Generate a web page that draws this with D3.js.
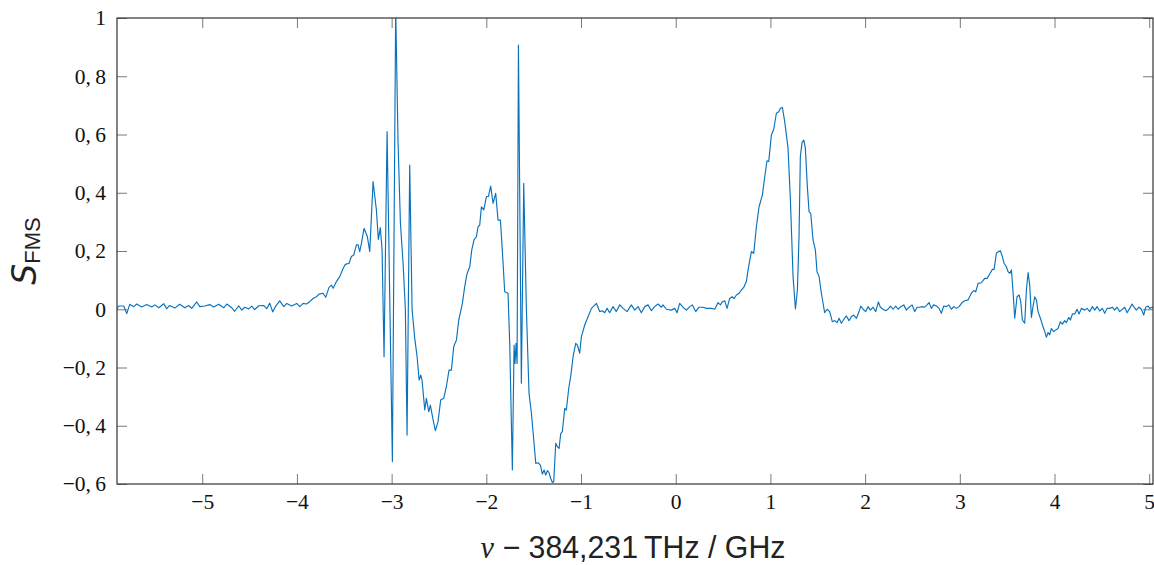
<!DOCTYPE html>
<html>
<head>
<meta charset="utf-8">
<script src="https://cdn.jsdelivr.net/npm/d3@7"></script>
<style>
    html, body { margin: 0; padding: 0; background: #fff; }
    svg { display: block; }
</style>
</head>
<body>
<div id="chart"></div>
<script>
// FM spectroscopy signal, [detuning in GHz, S_FMS]
const flatLeft = [
    [-5.903, 0.000], [-5.882, 0.011], [-5.829, 0.011], [-5.797, -0.015], [-5.766, 0.017],
    [-5.723, 0.009], [-5.692, 0.018], [-5.639, 0.008], [-5.586, 0.016], [-5.533, 0.008],
    [-5.502, 0.015], [-5.459, 0.005], [-5.406, 0.019], [-5.375, 0.002], [-5.343, 0.013],
    [-5.290, 0.004], [-5.238, 0.017], [-5.185, 0.005], [-5.143, 0.013], [-5.111, 0.003],
    [-5.058, 0.025], [-5.026, 0.009], [-4.974, 0.011], [-4.921, 0.016], [-4.879, 0.008],
    [-4.826, 0.017], [-4.773, 0.005], [-4.741, 0.018], [-4.688, 0.005], [-4.657, -0.007],
    [-4.615, 0.012], [-4.583, -0.003], [-4.551, 0.007], [-4.509, 0.001], [-4.477, 0.011],
    [-4.446, -0.001], [-4.403, 0.012], [-4.351, 0.013], [-4.319, 0.002], [-4.287, 0.021],
    [-4.256, -0.009], [-4.224, 0.011], [-4.182, 0.029], [-4.139, 0.009], [-4.108, 0.020],
    [-4.055, 0.011], [-4.002, 0.020]
];

const groupA = [
    [-3.970, 0.009], [-3.935, 0.020], [-3.900, 0.018], [-3.865, 0.026], [-3.830, 0.037],
    [-3.794, 0.043], [-3.766, 0.052], [-3.724, 0.055], [-3.696, 0.041], [-3.661, 0.075],
    [-3.636, 0.083], [-3.618, 0.072], [-3.583, 0.095], [-3.548, 0.112], [-3.513, 0.140],
    [-3.488, 0.154], [-3.449, 0.158], [-3.425, 0.181], [-3.400, 0.186], [-3.372, 0.221],
    [-3.354, 0.221], [-3.337, 0.198], [-3.319, 0.226], [-3.291, 0.278], [-3.256, 0.249],
    [-3.231, 0.198], [-3.196, 0.438], [-3.161, 0.341], [-3.140, 0.240], [-3.119, 0.280],
    [-3.101, 0.204], [-3.080, -0.163], [-3.048, 0.610], [-2.992, -0.523], [-2.957, 1.030],
    [-2.932, 0.570], [-2.907, 0.295], [-2.879, 0.158], [-2.855, 0.000], [-2.837, -0.432],
    [-2.809, 0.495], [-2.784, 0.000], [-2.756, -0.100], [-2.731, -0.163], [-2.710, -0.243],
    [-2.693, -0.226], [-2.679, -0.243], [-2.650, -0.346], [-2.633, -0.306], [-2.608, -0.352],
    [-2.591, -0.329], [-2.562, -0.380], [-2.538, -0.417], [-2.510, -0.386], [-2.482, -0.312],
    [-2.450, -0.306], [-2.422, -0.266], [-2.394, -0.209], [-2.369, -0.209], [-2.344, -0.128],
    [-2.316, -0.106]
];

const groupB = [
    [-2.291, -0.037], [-2.253, 0.020], [-2.228, 0.078], [-2.203, 0.123], [-2.175, 0.146],
    [-2.154, 0.203], [-2.130, 0.238], [-2.105, 0.249], [-2.087, 0.284], [-2.070, 0.289],
    [-2.052, 0.352], [-2.027, 0.341], [-1.999, 0.387], [-1.978, 0.387], [-1.954, 0.423],
    [-1.929, 0.364], [-1.901, 0.398], [-1.876, 0.306], [-1.851, 0.306], [-1.823, 0.158],
    [-1.806, 0.060], [-1.771, 0.055], [-1.753, -0.117], [-1.725, -0.552], [-1.707, -0.123],
    [-1.697, -0.186], [-1.686, -0.117], [-1.675, -0.186], [-1.661, 0.907], [-1.630, -0.254],
    [-1.605, 0.432], [-1.577, 0.000], [-1.549, -0.289], [-1.524, -0.357], [-1.499, -0.449],
    [-1.478, -0.529], [-1.454, -0.527], [-1.429, -0.535], [-1.408, -0.566], [-1.390, -0.552],
    [-1.373, -0.569], [-1.355, -0.554], [-1.338, -0.561], [-1.320, -0.581], [-1.302, -0.595],
    [-1.288, -0.592], [-1.267, -0.460], [-1.250, -0.472], [-1.232, -0.478], [-1.214, -0.426],
    [-1.197, -0.420], [-1.172, -0.340], [-1.155, -0.346], [-1.130, -0.272], [-1.109, -0.231],
    [-1.084, -0.163], [-1.056, -0.117], [-1.038, -0.123], [-1.014, -0.151], [-0.996, -0.094],
    [-0.961, -0.054], [-0.926, -0.026], [-0.890, 0.003], [-0.837, 0.020]
];

const flatMid = [
    [-0.803, -0.008], [-0.774, -0.005], [-0.750, -0.012], [-0.725, 0.003], [-0.697, -0.012],
    [-0.662, 0.009], [-0.627, -0.008], [-0.591, 0.015], [-0.556, 0.003], [-0.514, -0.008],
    [-0.468, 0.015], [-0.433, -0.003], [-0.398, 0.009], [-0.363, -0.012], [-0.327, 0.009],
    [-0.292, 0.015], [-0.257, -0.005], [-0.222, 0.009], [-0.187, 0.018], [-0.151, 0.007],
    [-0.134, 0.015], [-0.099, 0.000], [-0.046, -0.003], [-0.011, 0.003], [0.014, -0.012],
    [0.042, 0.020], [0.077, 0.007], [0.113, -0.003], [0.148, 0.009], [0.176, 0.015],
    [0.211, -0.008], [0.246, 0.007], [0.289, 0.007], [0.324, 0.003], [0.377, 0.003],
    [0.412, 0.000], [0.447, 0.023], [0.472, 0.015], [0.493, 0.026], [0.517, 0.029],
    [0.542, 0.003], [0.570, 0.037], [0.595, 0.043], [0.616, 0.037], [0.641, 0.049],
    [0.669, 0.055], [0.693, 0.066], [0.718, 0.075], [0.746, 0.095]
];

const groupC = [
    [0.764, 0.135], [0.799, 0.198], [0.824, 0.192], [0.852, 0.284], [0.880, 0.352],
    [0.915, 0.392], [0.940, 0.455], [0.964, 0.510], [0.982, 0.507], [1.010, 0.598],
    [1.035, 0.618], [1.063, 0.673], [1.088, 0.678], [1.105, 0.690], [1.126, 0.693],
    [1.151, 0.644], [1.186, 0.553], [1.211, 0.375], [1.239, 0.112], [1.264, 0.001],
    [1.285, 0.066], [1.302, 0.249], [1.316, 0.524], [1.334, 0.572], [1.352, 0.581],
    [1.369, 0.553], [1.390, 0.421], [1.408, 0.335], [1.426, 0.329], [1.450, 0.238],
    [1.475, 0.203], [1.492, 0.129], [1.514, 0.112], [1.538, 0.055]
];

const flatRight = [
    [1.573, -0.012], [1.598, 0.000], [1.626, -0.008], [1.654, -0.043], [1.679, -0.039],
    [1.704, -0.046], [1.725, -0.031], [1.749, -0.048], [1.774, -0.035], [1.802, -0.023],
    [1.830, -0.039], [1.855, -0.025], [1.880, -0.020], [1.908, -0.031], [1.936, -0.008],
    [1.954, 0.011], [1.978, 0.000], [2.006, -0.008], [2.031, 0.009], [2.056, -0.003],
    [2.084, 0.007], [2.112, -0.008], [2.140, 0.025], [2.161, 0.007], [2.189, 0.000],
    [2.218, -0.005], [2.242, 0.000], [2.267, 0.011], [2.295, 0.000], [2.323, 0.011],
    [2.348, 0.000], [2.376, 0.009], [2.408, 0.015], [2.436, -0.003], [2.464, 0.007],
    [2.496, 0.015], [2.524, -0.008], [2.549, 0.007], [2.577, 0.007], [2.601, 0.009],
    [2.629, 0.007], [2.654, 0.015], [2.675, 0.023], [2.700, 0.003], [2.724, 0.015],
    [2.753, 0.011], [2.781, 0.003], [2.805, -0.014], [2.830, 0.011], [2.858, 0.009],
    [2.883, 0.015], [2.911, 0.000], [2.936, 0.009], [2.964, 0.003], [2.992, 0.009]
];

const groupD = [
    [3.024, 0.023], [3.052, 0.029], [3.087, 0.032], [3.122, 0.055], [3.147, 0.064],
    [3.168, 0.060], [3.193, 0.089], [3.228, 0.091], [3.263, 0.106], [3.288, 0.106],
    [3.316, 0.121], [3.344, 0.137], [3.362, 0.137], [3.386, 0.192], [3.411, 0.198],
    [3.428, 0.201], [3.449, 0.181], [3.467, 0.158], [3.492, 0.146], [3.509, 0.129],
    [3.527, 0.123], [3.545, 0.135], [3.562, 0.060], [3.580, -0.031], [3.604, 0.043],
    [3.626, 0.049], [3.643, 0.026], [3.661, -0.037], [3.685, -0.048], [3.703, 0.066],
    [3.721, 0.126], [3.738, 0.083], [3.756, -0.028], [3.773, 0.009], [3.791, 0.043],
    [3.809, 0.032], [3.826, -0.008], [3.851, -0.031], [3.879, -0.060], [3.897, -0.077],
    [3.914, -0.096], [3.932, -0.080], [3.949, -0.088], [3.967, -0.066], [3.992, -0.077],
    [4.013, -0.071], [4.037, -0.066], [4.062, -0.043], [4.083, -0.051], [4.108, -0.039],
    [4.125, -0.046], [4.150, -0.028], [4.168, -0.037], [4.189, -0.016], [4.213, -0.016],
    [4.238, 0.000], [4.259, -0.016], [4.284, 0.003], [4.319, -0.003], [4.344, 0.003],
    [4.372, -0.008], [4.400, 0.009], [4.425, -0.003], [4.449, 0.009], [4.477, -0.006],
    [4.505, 0.003], [4.530, -0.014], [4.555, 0.003], [4.583, 0.003], [4.611, 0.007],
    [4.636, -0.003], [4.660, 0.007], [4.688, -0.008], [4.717, 0.000], [4.741, 0.007],
    [4.766, -0.012], [4.794, 0.003], [4.819, 0.018], [4.840, 0.007], [4.864, -0.003],
    [4.892, 0.007], [4.917, 0.000], [4.942, -0.020], [4.963, 0.007], [4.988, 0.011],
    [5.005, 0.003], [5.033, 0.007], [5.045, 0.005]
];

const xTicks = [-5, -4, -3, -2, -1, 0, 1, 2, 3, 4, 5];
const yTicks = [-0.6, -0.4, -0.2, 0, 0.2, 0.4, 0.6, 0.8, 1];
const xDomain = [-5.9, 5.04];
const yDomain = [-0.6, 1];

function drawSpectrum() {
    const width = 1154, height = 565;
    const margin = { top: 18, right: 1, bottom: 81, left: 117 };
    const innerW = width - margin.left - margin.right;
    const innerH = height - margin.top - margin.bottom;

    const svg = d3.select("#chart")
        .append("svg")
        .attr("width", width)
        .attr("height", height);

    const x = d3.scaleLinear().domain(xDomain).range([0, innerW]);
    const y = d3.scaleLinear().domain(yDomain).range([innerH, 0]);

    const g = svg.append("g")
        .attr("transform", `translate(${margin.left},${margin.top})`);

    svg.append("defs").append("clipPath")
        .attr("id", "plot-clip")
        .append("rect")
        .attr("width", innerW)
        .attr("height", innerH);

    // tick labels: decimal comma, real minus sign
    const fmtY = d => {
        if (d === 0) return "0";
        if (d === 1) return "1";
        const s = Math.abs(d).toFixed(1).replace(".", ",\u2009");
        return (d < 0 ? "\u2212" : "") + s;
    };
    const fmtX = d => (d < 0 ? "\u2212" + (-d) : String(d));

    const styleAxis = sel => {
        sel.select(".domain").remove();
        sel.selectAll(".tick line").attr("stroke", "#7a7a7a").attr("stroke-width", 1);
        sel.selectAll(".tick text")
            .attr("fill", "#111")
            .style("font-family", "'Liberation Serif', 'DejaVu Serif', serif")
            .style("font-size", "21.5px");
    };

    g.append("g")
        .attr("transform", `translate(0,${innerH})`)
        .call(d3.axisBottom(x).tickValues(xTicks).tickFormat(fmtX)
            .tickSizeInner(-10).tickSizeOuter(0).tickPadding(10))
        .call(styleAxis);

    g.append("g")
        .call(d3.axisTop(x).tickValues(xTicks).tickFormat("")
            .tickSizeInner(-10).tickSizeOuter(0))
        .call(styleAxis);

    g.append("g")
        .call(d3.axisLeft(y).tickValues(yTicks).tickFormat(fmtY)
            .tickSizeInner(-10).tickSizeOuter(0).tickPadding(11))
        .call(styleAxis);

    g.append("g")
        .attr("transform", `translate(${innerW},0)`)
        .call(d3.axisRight(y).tickValues(yTicks).tickFormat("")
            .tickSizeInner(-10).tickSizeOuter(0))
        .call(styleAxis);

    // signal trace
    const signal = [].concat(flatLeft, groupA, groupB, flatMid, groupC, flatRight, groupD);
    const line = d3.line()
        .x(d => x(d[0]))
        .y(d => y(d[1]));

    g.append("path")
        .datum(signal)
        .attr("clip-path", "url(#plot-clip)")
        .attr("fill", "none")
        .attr("stroke", "#0a72bd")
        .attr("stroke-width", 1.15)
        .attr("stroke-linejoin", "round")
        .attr("d", line);

    // frame
    g.append("rect")
        .attr("width", innerW)
        .attr("height", innerH)
        .attr("fill", "none")
        .attr("stroke", "#333")
        .attr("stroke-width", 1.2);

    // y label S_FMS
    const yLab = svg.append("text")
        .attr("transform", `translate(36,${margin.top + innerH / 2}) rotate(-90)`)
        .attr("text-anchor", "middle")
        .attr("fill", "#222")
        .style("font-family", "'Liberation Sans', 'DejaVu Sans', sans-serif");
    yLab.append("tspan")
        .attr("font-style", "italic")
        .style("font-family", "'DejaVu Sans', sans-serif")
        .style("font-style", "oblique")
        .style("font-size", "33px")
        .text("S");
    yLab.append("tspan")
        .attr("dy", 4)
        .style("font-size", "22px")
        .text("FMS");

    // x label, squeezed to the width of the original
    const xLab = svg.append("text")
        .attr("text-anchor", "middle")
        .attr("fill", "#222")
        .style("font-family", "'Liberation Sans Narrow', 'Liberation Sans', sans-serif")
        .style("font-size", "31px");
    xLab.append("tspan")
        .style("font-family", "'Liberation Serif', serif")
        .style("font-style", "italic")
        .text("\u03bd");
    xLab.append("tspan").text(" \u2212 384,231\u2009THz / GHz");

    const w = xLab.node().getComputedTextLength();
    const sx = 305 / w;
    xLab.attr("transform", `translate(${margin.left + innerW / 2 - 2},558) scale(${sx},1)`);
}

drawSpectrum();
</script>
</body>
</html>
